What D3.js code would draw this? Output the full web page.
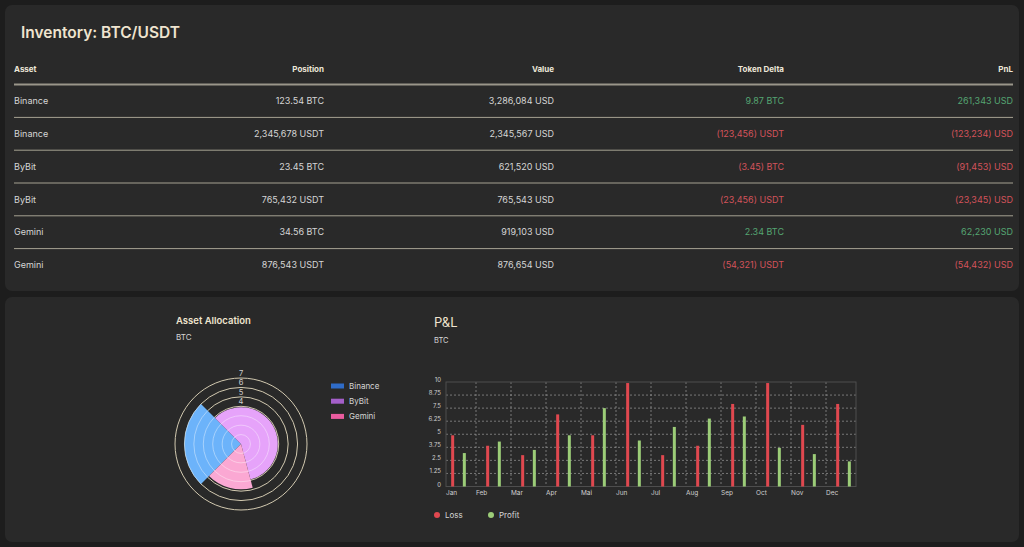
<!DOCTYPE html>
<html>
<head>
<meta charset="utf-8">
<script src="https://cdn.jsdelivr.net/npm/d3@7"></script>
<style>
  body { margin: 0; background: #1d1d1d; font-family: Inter, "Noto Sans", sans-serif; }
  svg { display: block; }
</style>
</head>
<body>
<svg width="1024" height="547"></svg>
<script>
  // inventory table
  const columns = ["Asset", "Position", "Value", "Token Delta", "PnL"];
  const assets = ["Binance", "Binance", "ByBit", "ByBit", "Gemini", "Gemini"];
  const positions = [123.54, 2345678, 23.45, 765432, 34.56, 876543];
  const units = ["BTC", "USDT", "BTC", "USDT", "BTC", "USDT"];
  const values = [3286084, 2345567, 621520, 765543, 919103, 876654];
  const tokenDeltas = [9.87, -123456, -3.45, -23456, 2.34, -54321];
  const pnls = [261343, -123234, -91453, -23345, 62230, -54432];

  // asset allocation (polar area)
  const allocNames = ["Binance", "ByBit", "Gemini"];
  const allocValues = [6, 3.9, 4.8];
  const allocSweep = [90, 210, 60];
  const allocTicks = [1, 2, 3, 4, 5, 6, 7];

  // P&L bars
  const months = ["Jan", "Feb", "Mar", "Apr", "Mai", "Jun", "Jul", "Aug", "Sep", "Oct", "Nov", "Dec"];
  const loss = [4.9, 3.9, 3, 6.9, 4.9, 9.9, 3, 3.9, 7.9, 9.9, 5.9, 7.9];
  const profit = [3.2, 4.3, 3.5, 4.9, 7.5, 4.4, 5.7, 6.5, 6.7, 3.7, 3.1, 2.4];
  const pnlTicks = [0, 1.25, 2.5, 3.75, 5, 6.25, 7.5, 8.75, 10];

  const svg = d3.select("svg");
  const green = "#55a572", red = "#d4535b";

  // cards
  svg.append("rect").attr("x", 5).attr("y", 5).attr("width", 1014).attr("height", 286)
    .attr("rx", 7).attr("fill", "#292929");
  svg.append("rect").attr("x", 5).attr("y", 297).attr("width", 1014).attr("height", 245)
    .attr("rx", 7).attr("fill", "#292929");

  svg.append("text").attr("x", 21).attr("y", 38)
    .attr("font-size", 15.5).attr("font-weight", 600).attr("fill", "#efe4cf")
    .text("Inventory: BTC/USDT");

  // ---- table ----
  const fmt = d3.format(",");
  const signed = v => v < 0 ? `(${fmt(-v)})` : fmt(v);
  const colRight = [null, 324, 554, 784, 1013];
  const rowY = d3.scalePoint().domain(d3.range(assets.length)).range([101, 265]);

  const rows = assets.map((a, i) => [
    { t: a, c: "#d6d6d6" },
    { t: `${fmt(positions[i])} ${units[i]}`, c: "#d6d6d6" },
    { t: `${fmt(values[i])} USD`, c: "#d6d6d6" },
    { t: `${signed(tokenDeltas[i])} ${units[i]}`, c: tokenDeltas[i] < 0 ? red : green },
    { t: `${signed(pnls[i])} USD`, c: pnls[i] < 0 ? red : green }
  ]);

  svg.append("g").selectAll("text").data(columns).enter().append("text")
    .attr("x", (d, i) => i === 0 ? 14 : colRight[i])
    .attr("y", 69).attr("dy", "0.35em")
    .attr("text-anchor", (d, i) => i === 0 ? "start" : "end")
    .attr("font-size", 8).attr("font-weight", 700).attr("fill", "#ece6d8")
    .text(d => d);

  svg.append("line").attr("x1", 14).attr("x2", 1013).attr("y1", 84.5).attr("y2", 84.5)
    .attr("stroke", "#9a968a").attr("stroke-width", 2);

  svg.append("g").selectAll("line").data(d3.range(assets.length - 1)).enter().append("line")
    .attr("x1", 14).attr("x2", 1013)
    .attr("y1", i => (rowY(i) + rowY(i + 1)) / 2).attr("y2", i => (rowY(i) + rowY(i + 1)) / 2)
    .attr("stroke", "#a6a292").attr("stroke-width", 1);

  const row = svg.append("g").selectAll("g").data(rows).enter().append("g")
    .attr("transform", (d, i) => `translate(0,${rowY(i)})`);
  row.selectAll("text").data(d => d).enter().append("text")
    .attr("x", (d, i) => i === 0 ? 14 : colRight[i])
    .attr("dy", "0.35em")
    .attr("text-anchor", (d, i) => i === 0 ? "start" : "end")
    .attr("font-size", 9).attr("fill", d => d.c)
    .text(d => d.t);

  // ---- asset allocation ----
  svg.append("text").attr("x", 176).attr("y", 324)
    .attr("font-size", 9.5).attr("font-weight", 600).attr("fill", "#efe4cf").text("Asset Allocation");
  svg.append("text").attr("x", 176).attr("y", 340)
    .attr("font-size", 8).attr("fill", "#d6d6d6").text("BTC");

  const cx = 241, cy = 444;
  const r = d3.scaleLinear().domain([0, 7]).range([0, 66]);
  const polar = svg.append("g").attr("transform", `translate(${cx},${cy})`);

  polar.selectAll("circle.ring").data(allocTicks).enter().append("circle")
    .attr("class", "ring")
    .attr("r", d => r(d)).attr("fill", "none").attr("stroke", "#d2c9b0").attr("stroke-width", 1);
  polar.selectAll("text.tick").data(allocTicks).enter().append("text")
    .attr("class", "tick").attr("y", d => -r(d) - 2).attr("text-anchor", "middle")
    .attr("font-size", 7.5).attr("fill", "#cfcfcf").text(d => d);

  const segColor = ["#6cb3fa", "#e6a3fa", "#fba8d3"];
  const legColor = ["#2f6cc8", "#a45fc9", "#ea5c9f"];
  let start = 225;
  const segs = allocValues.map((v, i) => {
    const s = { v, a0: start * Math.PI / 180, a1: (start + allocSweep[i]) * Math.PI / 180, i };
    start += allocSweep[i];
    return s;
  });
  const arc = d3.arc().innerRadius(0).outerRadius(d => r(d.v)).startAngle(d => d.a0).endAngle(d => d.a1);
  polar.selectAll("path.seg").data(segs).enter().append("path")
    .attr("class", "seg").attr("d", arc).attr("fill", d => segColor[d.i]);

  // faint rings seen through the segments only
  polar.append("clipPath").attr("id", "segclip")
    .selectAll("path").data(segs).enter().append("path").attr("d", arc);
  polar.append("g").attr("clip-path", "url(#segclip)")
    .selectAll("circle").data(allocTicks).enter().append("circle")
    .attr("r", d => r(d)).attr("fill", "none").attr("stroke", "#ffffff")
    .attr("stroke-opacity", 0.4).attr("stroke-width", 1);

  const leg = svg.append("g").selectAll("g").data(allocNames).enter().append("g")
    .attr("transform", (d, i) => `translate(331,${386 + i * 15.2})`);
  leg.append("rect").attr("y", -2.5).attr("width", 13).attr("height", 5).attr("fill", (d, i) => legColor[i]);
  leg.append("text").attr("x", 18).attr("dy", "0.35em").attr("font-size", 8).attr("fill", "#d6d6d6").text(d => d);

  // ---- P&L ----
  svg.append("text").attr("x", 434).attr("y", 327)
    .attr("font-size", 13).attr("fill", "#efe4cf").text("P&L");
  svg.append("text").attr("x", 434).attr("y", 343)
    .attr("font-size", 7.5).attr("fill", "#d6d6d6").text("BTC");

  const left = 446, right = 856;
  const x = d3.scaleBand().domain(months).range([left - 5, right + 5]);
  const xs = d3.scalePoint().domain(["loss", "profit"]).range([0, x.bandwidth()]).padding(1);
  const y = d3.scaleLinear().domain([0, 10]).range([486.5, 382]);

  const grid = svg.append("g").attr("stroke", "#9a9a9a").attr("stroke-dasharray", "2,2").attr("stroke-opacity", 0.7);
  grid.selectAll("line.h").data(pnlTicks.slice(1, -1)).enter().append("line")
    .attr("x1", left).attr("x2", right).attr("y1", d => y(d)).attr("y2", d => y(d));
  grid.selectAll("line.v").data(months.slice(1)).enter().append("line")
    .attr("x1", d => x(d)).attr("x2", d => x(d)).attr("y1", y(10)).attr("y2", y(0));

  svg.append("rect").attr("x", left).attr("y", y(10)).attr("width", right - left).attr("height", y(0) - y(10))
    .attr("fill", "none").attr("stroke", "#4e4e4e");

  svg.append("g").selectAll("text").data(pnlTicks).enter().append("text")
    .attr("x", 441).attr("y", d => y(d)).attr("text-anchor", "end")
    .attr("font-size", 6).attr("fill", "#cfcfcf").text(d => d);

  svg.append("g").selectAll("text").data(months).enter().append("text")
    .attr("x", d => Math.max(x(d), left)).attr("y", 495)
    .attr("font-size", 6.5).attr("fill", "#cfcfcf").text(d => d);

  const bars = svg.append("g");
  bars.selectAll("rect.loss").data(loss).enter().append("rect")
    .attr("x", (d, i) => x(months[i]) + xs("loss") - 1.5).attr("width", 3)
    .attr("y", d => y(d)).attr("height", d => y(0) - y(d)).attr("fill", "#e0484f");
  bars.selectAll("rect.profit").data(profit).enter().append("rect")
    .attr("x", (d, i) => x(months[i]) + xs("profit") - 1.5).attr("width", 3)
    .attr("y", d => y(d)).attr("height", d => y(0) - y(d)).attr("fill", "#9ccd78");

  const pl = svg.append("g").selectAll("g").data(["Loss", "Profit"]).enter().append("g")
    .attr("transform", (d, i) => `translate(${437 + i * 54},515)`);
  pl.append("circle").attr("r", 3).attr("fill", (d, i) => i ? "#9ccd78" : "#e0484f");
  pl.append("text").attr("x", 8).attr("dy", "0.35em").attr("font-size", 8).attr("fill", "#d6d6d6").text(d => d);
</script>
</body>
</html>
